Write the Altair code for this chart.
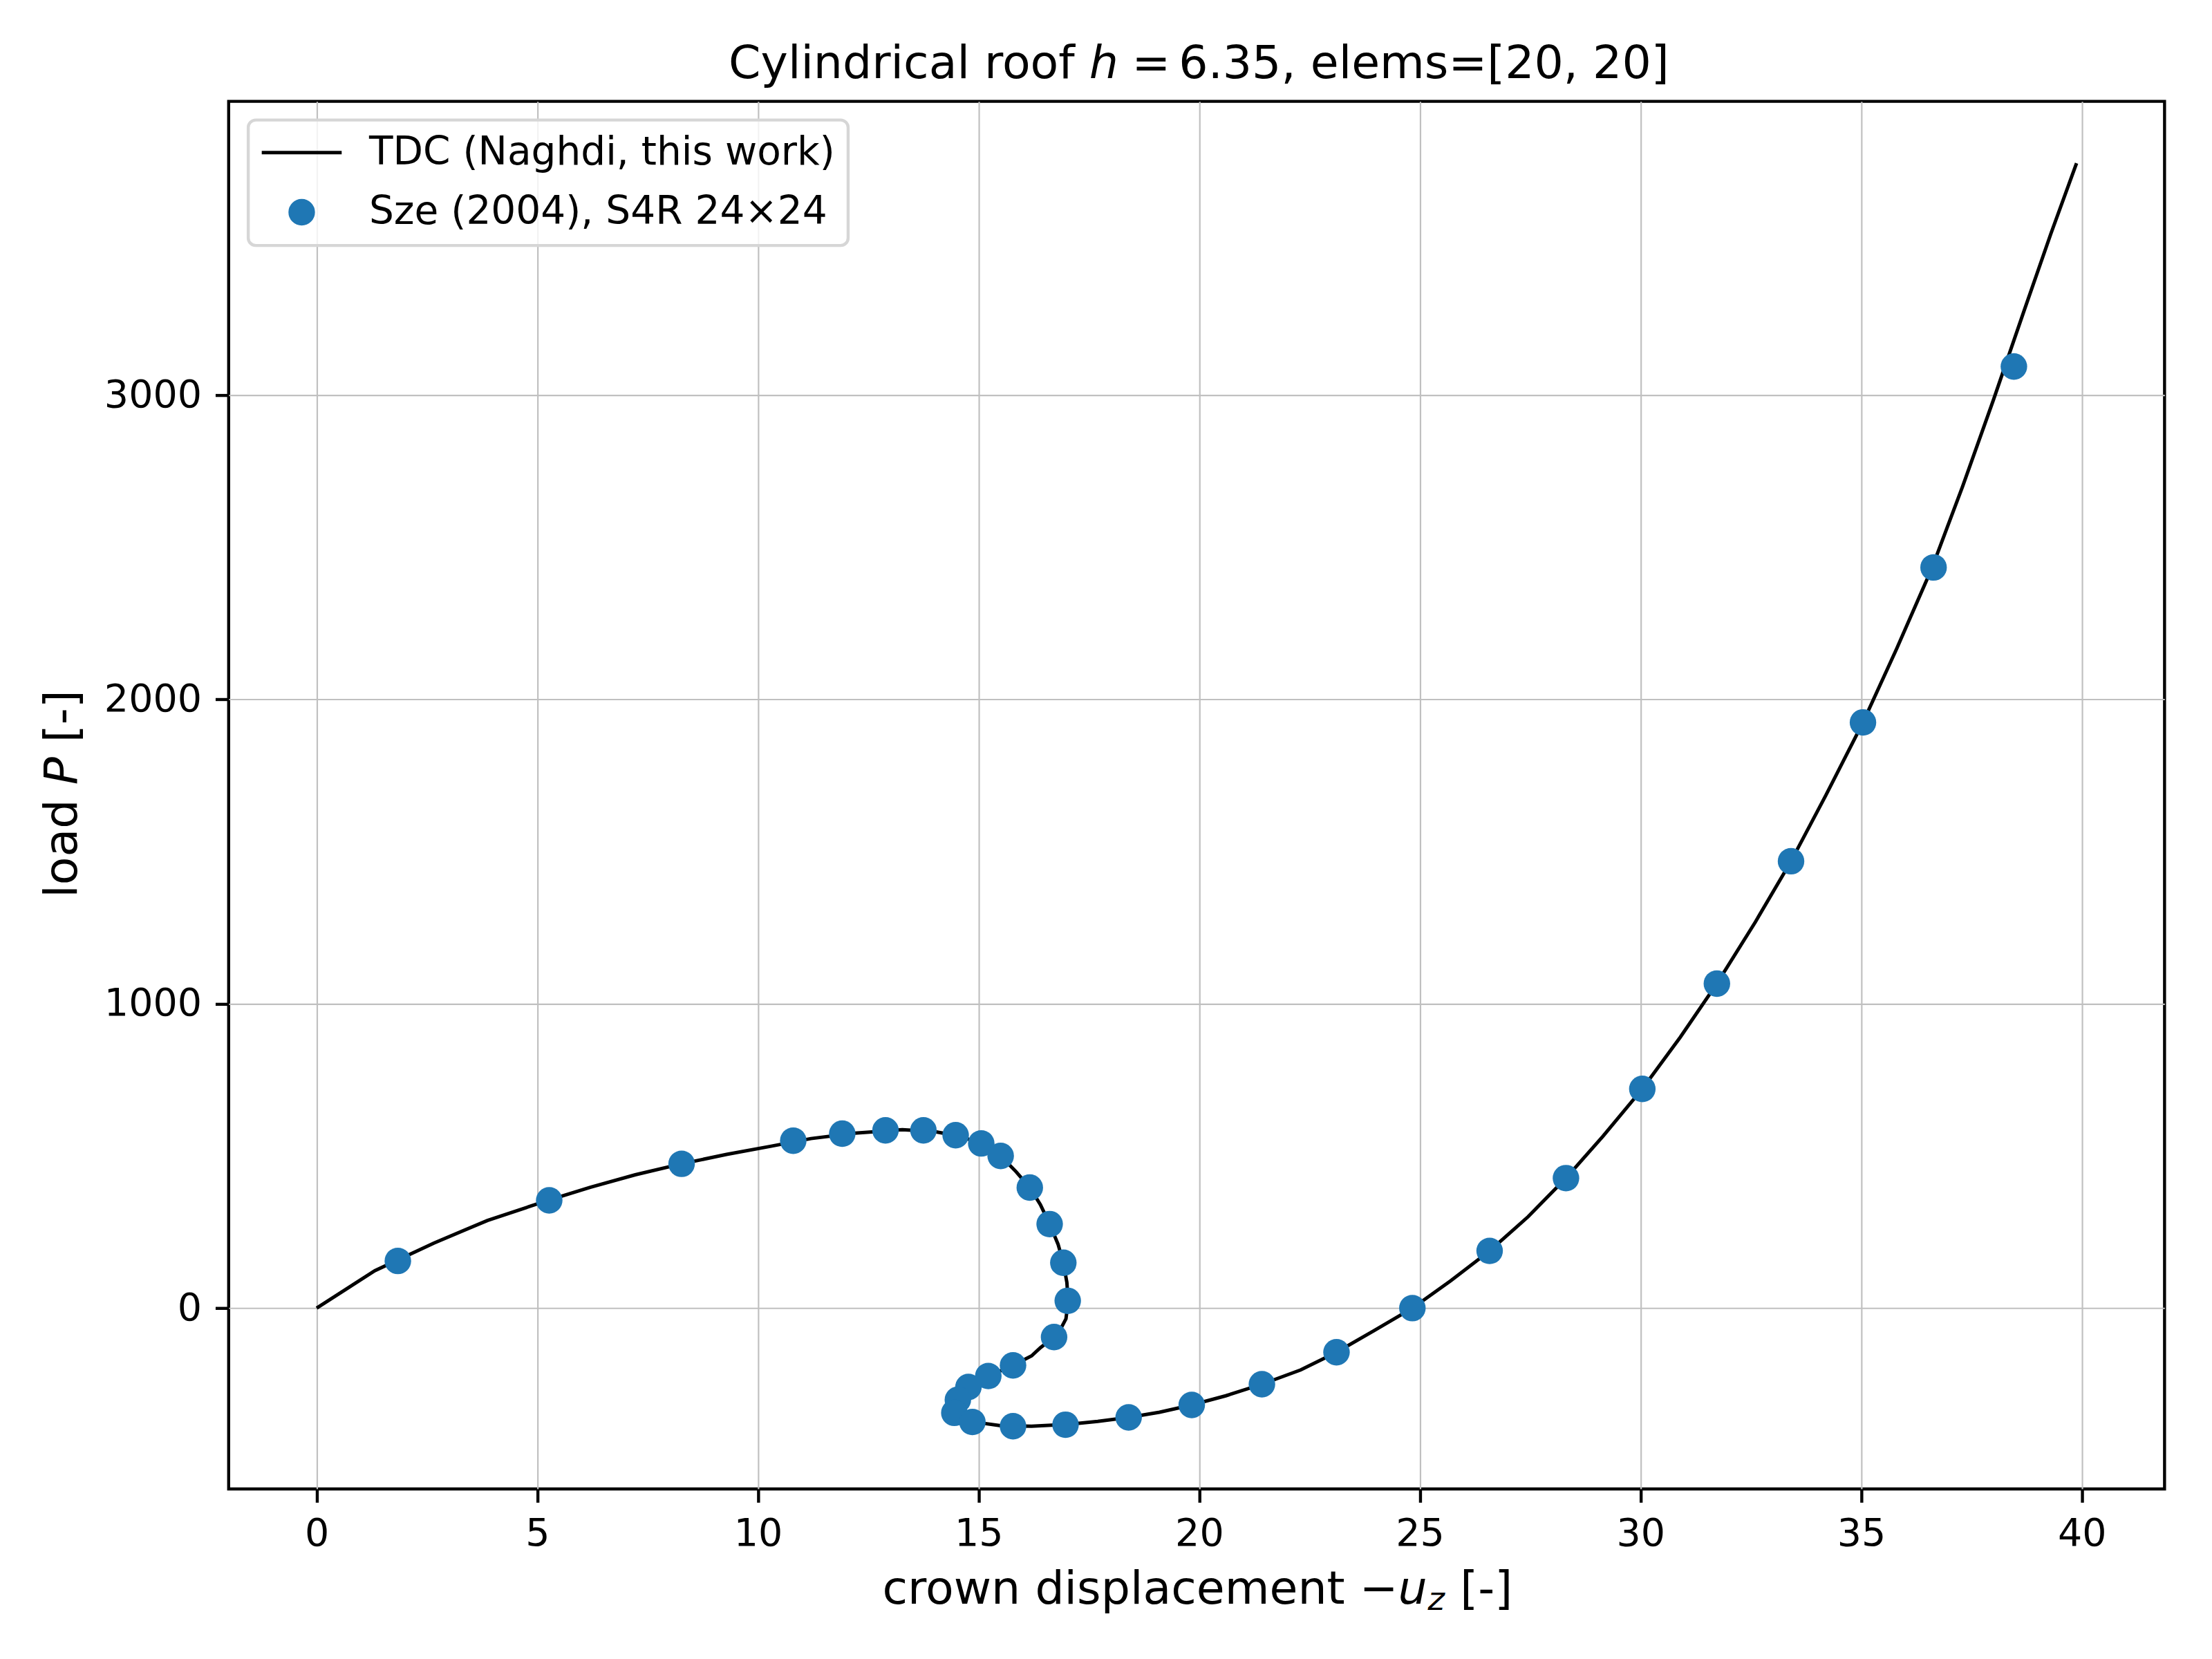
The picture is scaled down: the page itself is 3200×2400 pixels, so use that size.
import altair as alt
import pandas as pd

# ---------------- data ----------------
TDC_NAME = "TDC (Naghdi, this work)"
SZE_NAME = "Sze (2004), S4R 24×24"

tdc_x = [0.0, 1.32, 2.66, 3.87, 5.2, 6.2, 7.22, 8.27, 9.29, 10.3, 11.2, 12.2,
         13.27, 14.0, 14.6, 15.1, 15.5, 15.85, 16.16, 16.4, 16.61, 16.8, 16.92,
         17.0, 17.03, 16.98, 16.86, 16.71, 16.4, 16.2, 15.78, 15.22, 14.77, 14.55,
         14.48, 14.9, 15.5, 16.2, 17.0, 17.7, 18.4, 19.1, 19.83, 20.6, 21.42,
         22.3, 23.11, 23.95, 24.83, 25.7, 26.58, 27.45, 28.31, 29.15, 30.04,
         30.9, 31.73, 32.6, 33.41, 34.2, 35.04, 35.8, 36.6, 37.3, 38.0, 38.7,
         39.3, 39.88]
tdc_y = [0, 123, 214, 288, 352, 397, 438, 474, 505, 532, 557, 575,
         586, 580, 564, 537, 500, 448, 396, 340, 276, 210, 149,
         85, 24, -35, -68, -95, -130, -157, -188, -223, -259, -300,
         -345, -374, -386, -388, -382, -372, -359, -342, -318, -288, -250,
         -203, -145, -75, 0, 90, 188, 300, 427, 565, 720,
         890, 1066, 1268, 1468, 1685, 1924, 2165, 2430, 2700, 2985, 3280,
         3530, 3761]

sze_x = [1.84, 5.27, 8.27, 10.80, 11.91, 12.89, 13.75, 14.48, 15.06, 15.50,
         16.16, 16.61, 16.92, 17.02, 16.71, 15.78, 15.22, 14.77, 14.53, 14.45,
         14.86, 15.78, 16.97, 18.40, 19.83, 21.42, 23.11, 24.83, 26.58, 28.31,
         30.04, 31.73, 33.41, 35.04, 36.64, 38.46]
sze_y = [155, 354, 474, 550, 573, 584, 584, 568, 541, 500,
         396, 276, 149, 24, -95, -188, -223, -259, -301, -344,
         -374, -388, -383, -359, -318, -250, -145, 0, 188, 427,
         720, 1066, 1468, 1924, 2433, 3093]

x_ticks = [0, 5, 10, 15, 20, 25, 30, 35, 40]
y_ticks = [0, 1000, 2000, 3000]

title_parts = ["Cylindrical roof", "h", "=", "6.35, elems=[20, 20]"]
xlabel_parts = ["crown displacement \u2212", "u", "z", "[-]"]
ylabel_parts = ["load", "P", "[-]"]

# ---------------- tables ----------------
tdc_df = pd.DataFrame({"x": tdc_x, "y": tdc_y, "i": list(range(len(tdc_x))),
                       "series": TDC_NAME})
sze_df = pd.DataFrame({"x": sze_x, "y": sze_y, "series": SZE_NAME})
one = pd.DataFrame({"k": [0]})

FONT = "DejaVu Sans"
W, H = 2807.6, 2012.4

xscale = alt.Scale(domain=[-1.994, 41.874], nice=False, zero=False)
yscale = alt.Scale(domain=[-594, 3964], nice=False, zero=False)
cscale = alt.Scale(domain=[TDC_NAME, SZE_NAME], range=["black", "#1f77b4"])
sscale = alt.Scale(domain=[TDC_NAME, SZE_NAME], range=["M-3.46,0H3.46", "circle"])

axis_common = dict(grid=True, gridColor="#c0c0c0", gridWidth=2.2, domain=False,
                   tickColor="black", tickWidth=4.4, tickSize=19.4,
                   labelFont=FONT, labelFontSize=55.6, labelColor="black",
                   labelOverlap=False, labelFlush=False, title=None, format="d")
xaxis = alt.Axis(values=x_ticks, labelPadding=18, **axis_common)
yaxis = alt.Axis(values=y_ticks, labelPadding=20, **axis_common)

legend = alt.Legend(
    title=None, orient="none", legendX=28.4, legendY=27,
    padding=19, cornerRadius=11, strokeColor="#d6d6d6",
    fillColor="rgba(255,255,255,0.8)",
    labelFont=FONT, labelFontSize=56.7, labelColor="black", labelLimit=3000,
    symbolOffset=30.2, labelOffset=69.4, rowPadding=28.4,
    symbolSize=1122, symbolStrokeWidth=5, symbolOpacity=1,
)

line = alt.Chart(tdc_df).mark_line(strokeWidth=5).encode(
    x=alt.X("x:Q", scale=xscale, axis=xaxis),
    y=alt.Y("y:Q", scale=yscale, axis=yaxis),
    order=alt.Order("i:Q"),
    color=alt.Color("series:N", scale=cscale, legend=legend),
)

points = alt.Chart(sze_df).mark_point(filled=True, size=1482, opacity=1).encode(
    x=alt.X("x:Q", scale=xscale),
    y=alt.Y("y:Q", scale=yscale),
    color=alt.Color("series:N", scale=cscale, legend=legend),
    shape=alt.Shape("series:N", scale=sscale, legend=legend),
)


def txt(s, x, y, size, style="normal", align="left", angle=0):
    return alt.Chart(one).mark_text(
        text=s, align=align, baseline="alphabetic", font=FONT, fontSize=size,
        fontStyle=style, angle=angle, color="black"
    ).encode(x=alt.value(x), y=alt.value(y))


texts = [
    # title
    txt(title_parts[0], 1227.0, -33.5, 66.7, align="right"),
    txt(title_parts[1], 1248.0, -33.5, 66.7, style="italic"),
    txt(title_parts[2], 1310.0, -33.5, 66.7),
    txt(title_parts[3], 1378.0, -33.5, 66.7),
    # x label
    txt(xlabel_parts[0], 1696.0, 2179, 66.7, align="right"),
    txt(xlabel_parts[1], 1696.0, 2179, 66.7, style="italic"),
    txt(xlabel_parts[2], 1739.0, 2188, 46.7, style="italic"),
    txt(xlabel_parts[3], 1786.0, 2179, 66.7),
    # y label
    txt(ylabel_parts[0], -220.6, 1155, 66.7, angle=270),
    txt(ylabel_parts[1], -220.6, 991.2, 66.7, style="italic", angle=270),
    txt(ylabel_parts[2], -220.6, 929.8, 66.7, angle=270),
]

chart = alt.layer(line, points, *texts).properties(
    width=W, height=H,
    autosize=alt.AutoSizeParams(type="none"),
    padding={"left": 323.6, "top": 136, "right": 60.8, "bottom": 243.6},
    background="white",
).configure_view(stroke="black", strokeWidth=4.4).configure_legend(strokeWidth=4.4)

chart.save("out.html", embed_options={"renderer": "svg", "actions": False})
